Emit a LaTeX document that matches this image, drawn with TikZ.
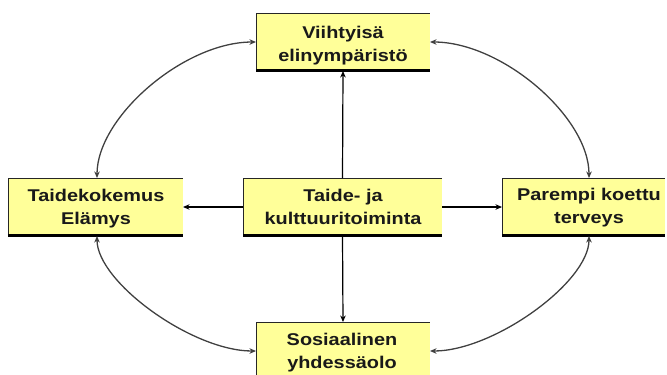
\documentclass[tikz,border=0pt]{standalone}
\usepackage{fontspec}
\setmainfont{Liberation Sans}[FakeStretch=1.17]
\usetikzlibrary{arrows.meta}
\definecolor{boxfill}{HTML}{FFFF99}
\newcommand\boxedges[1]{%
  \draw[line width=0.9bp, black!85] (#1.south west) -- (#1.north west) -- (#1.north east);
  \draw[line width=2.4bp, black] ([yshift=0.6bp]#1.south west) -- ([yshift=0.6bp]#1.south east);}
\begin{document}
\begin{tikzpicture}[x=1bp,y=-1bp,
  box/.style={fill=boxfill, draw=none, inner sep=0pt, outer sep=0pt, minimum height=58bp},
  txt/.style={font=\bfseries\fontsize{17bp}{23bp}\selectfont, align=center, inner sep=0pt, text=black!90},
  tip/.tip={Stealth[length=6.5bp,width=5.5bp]},
  arr/.style={-tip, line width=1.2bp, black},
  darr/.style={tip-tip, line width=1.3bp, black!75},
]
\useasboundingbox (0,0) rectangle (667,374);
\clip (0,0) rectangle (667,374);
% boxes
\node[box, minimum width=174bp] (t) at (343,42) {};
\node[box, minimum width=175bp] (l) at (95.5,207) {};
\node[box, minimum width=199bp] (c) at (342.5,207) {};
\node[box, minimum width=163bp] (r) at (583.5,207) {};
\node[box, minimum width=174bp] (b) at (343,351) {};
\boxedges{t}
\boxedges{l}
\boxedges{c}
\boxedges{r}
\boxedges{b}
% texts
\node[txt] (tt) at (343,45.1) {Viihtyisä\\elinympäristö};
\node[txt] (lt) at (96,208.1) {Taidekokemus\\Elämys};
\node[txt] (ct) at (343,207.3) {Taide- ja\\kulttuuritoiminta};
\node[txt] (rt) at (589,207.1) {Parempi koettu\\terveys};
\node[txt] (bt) at (342,352.1) {Sosiaalinen\\yhdessäolo};
% straight connectors
\draw[arr] (c.north) -- (t.south);
\draw[arr] (c.west) -- (l.east);
\draw[arr] (c.east) -- (r.west);
\draw[arr] (c.south) -- (b.north);
% curved connectors
\coordinate (rn) at ([xshift=5.5bp]r.north);
\coordinate (rs) at ([xshift=5.5bp]r.south);
\coordinate (ln) at ([xshift=1.5bp]l.north);
\coordinate (ls) at ([xshift=1.5bp]l.south);
\draw[darr] (t.west) .. controls +(-72,0) and +(0,-61) .. (ln);
\draw[darr] (t.east) .. controls +(72,0) and +(0,-61) .. (rn);
\draw[darr] (ls) .. controls +(0,46) and +(-64,0) .. (b.west);
\draw[darr] (b.east) .. controls +(64,0) and +(0,46) .. (rs);
\end{tikzpicture}
\end{document}
